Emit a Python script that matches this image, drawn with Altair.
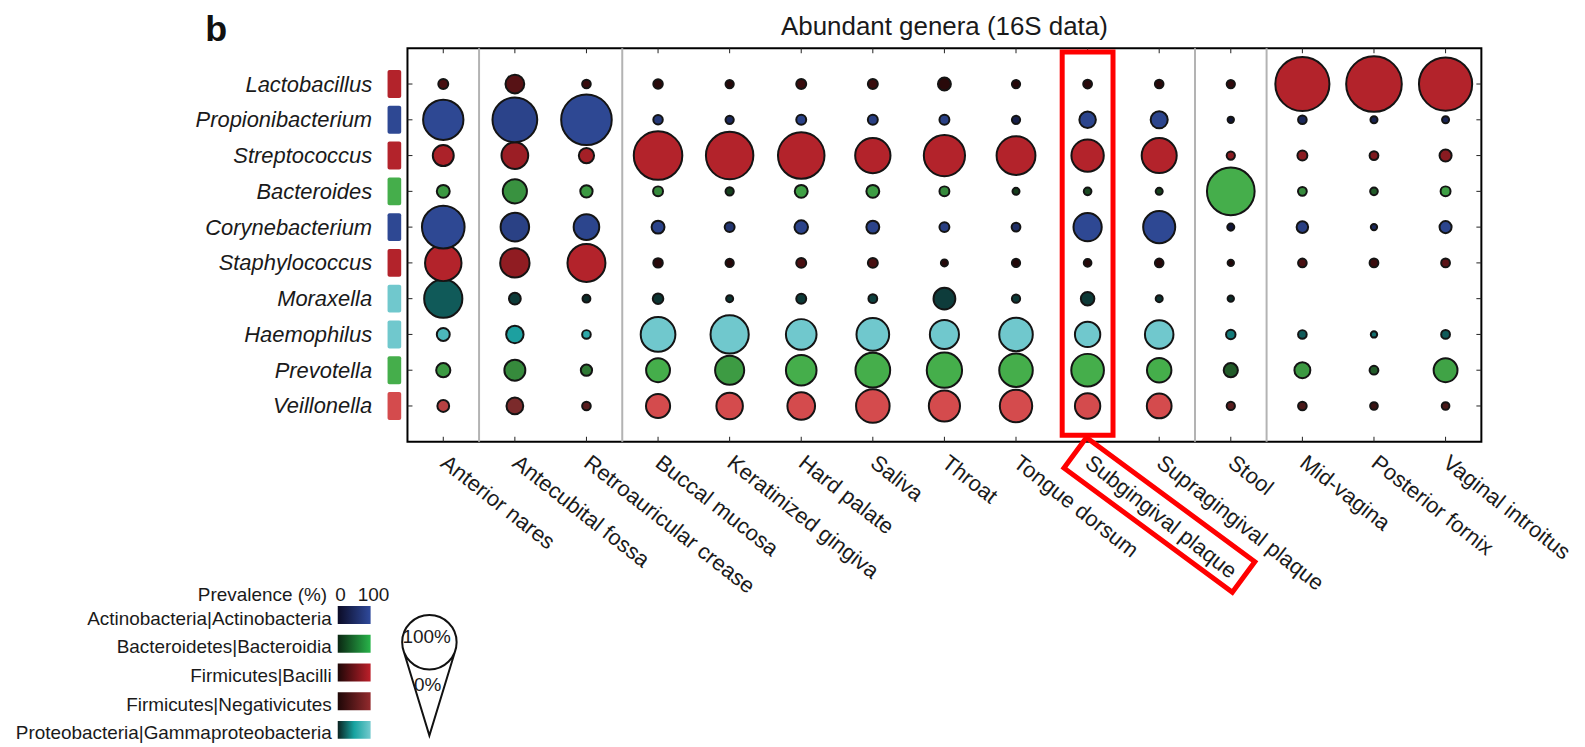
import json
import altair as alt
import pandas as pd

FONT = "Liberation Sans"

# ---------------- data ----------------
sites = ["Anterior nares", "Antecubital fossa", "Retroauricular crease", "Buccal mucosa",
         "Keratinized gingiva", "Hard palate", "Saliva", "Throat", "Tongue dorsum",
         "Subgingival plaque", "Supragingival plaque", "Stool", "Mid-vagina",
         "Posterior fornix", "Vaginal introitus"]
site_groups = ["Airways", "Skin", "Skin", "Oral", "Oral", "Oral", "Oral", "Oral", "Oral",
               "Oral", "Oral", "Gut", "Urogenital", "Urogenital", "Urogenital"]
highlighted_site = "Subgingival plaque"

genera = ["Lactobacillus", "Propionibacterium", "Streptococcus", "Bacteroides",
          "Corynebacterium", "Staphylococcus", "Moraxella", "Haemophilus",
          "Prevotella", "Veillonella"]
genus_class = ["Firmicutes|Bacilli", "Actinobacteria|Actinobacteria", "Firmicutes|Bacilli",
               "Bacteroidetes|Bacteroidia", "Actinobacteria|Actinobacteria", "Firmicutes|Bacilli",
               "Proteobacteria|Gammaproteobacteria", "Proteobacteria|Gammaproteobacteria",
               "Bacteroidetes|Bacteroidia", "Firmicutes|Negativicutes"]

classes = ["Actinobacteria|Actinobacteria", "Bacteroidetes|Bacteroidia", "Firmicutes|Bacilli",
           "Firmicutes|Negativicutes", "Proteobacteria|Gammaproteobacteria"]
class_prev_domain = [[0, 100], [0, 100], [0, 100], [0, 100], [0, 70, 100]]
class_colors = [["#0a0a22", "#2e4893"], ["#0a2412", "#45ae4b"], ["#1a0606", "#b3232b"],
                ["#1a0606", "#d44b4d"], ["#0b2220", "#179d9d", "#70c8cd"]]
legend_colors = [["#0b0b26", "#2f4a9c"], ["#0a2612", "#28b44a"], ["#1e0707", "#bd1f2a"],
                 ["#1e0707", "#932a2d"], ["#0b2220", "#17a3a0", "#74cace"]]

# relative abundance (size) per site, in site order
lactobacillus_abund = [3.2, 11.4, 2.4, 2.9, 2.2, 3.2, 3.2, 5.4, 2.2, 2.5, 2.4, 2.2, 94.7, 100, 91.6]
propionibacterium_abund = [52.6, 64.8, 82.7, 2.9, 2.2, 3.2, 3.2, 3.2, 2.2, 8.8, 9.4, 1.3, 2.4, 1.6, 1.6]
streptococcus_abund = [14.2, 23.1, 7.5, 76.2, 72.7, 70.0, 40.3, 54.9, 48.8, 33.9, 39.7, 2.2, 3.2, 2.5, 4.7]
bacteroides_abund = [5.4, 18.8, 4.9, 3.2, 2.2, 5.4, 5.4, 3.2, 1.6, 1.9, 1.6, 73.5, 2.5, 1.9, 3.2]
corynebacterium_abund = [58.8, 26.3, 21.2, 5.4, 3.2, 5.9, 5.4, 3.2, 2.5, 25.8, 33.2, 1.6, 4.3, 1.3, 4.7]
staphylococcus_abund = [43.0, 27.9, 46.6, 2.9, 2.2, 3.2, 3.2, 1.6, 2.2, 1.9, 2.4, 1.3, 2.4, 2.5, 2.5]
moraxella_abund = [47.2, 4.5, 2.0, 3.6, 1.6, 3.2, 2.5, 15.4, 2.2, 5.9, 1.6, 1.3, None, None, None]
haemophilus_abund = [5.4, 9.8, 2.4, 38.9, 47.2, 30.3, 34.5, 27.4, 36.4, 20.8, 26.3, 2.9, 2.4, 1.3, 2.5]
prevotella_abund = [6.5, 14.2, 4.1, 18.4, 27.4, 30.3, 38.9, 40.3, 36.4, 34.5, 19.3, 6.5, 8.2, 2.5, 18.4]
veillonella_abund = [4.5, 9.1, 2.4, 18.8, 22.7, 24.7, 36.4, 31.4, 33.9, 20.8, 19.8, 2.2, 2.4, 1.9, 1.9]

# prevalence (%) per site, in site order
lactobacillus_prev = [30, 40, 20, 10, 8, 20, 20, 10, 8, 10, 10, 15, 100, 100, 100]
propionibacterium_prev = [100, 92, 100, 76, 50, 90, 85, 88, 35, 95, 95, 17, 50, 40, 45]
streptococcus_prev = [95, 84, 90, 100, 100, 100, 100, 100, 100, 100, 100, 73, 73, 65, 73]
bacteroides_prev = [85, 80, 85, 74, 20, 90, 88, 74, 18, 27, 20, 100, 74, 40, 90]
corynebacterium_prev = [100, 88, 95, 92, 69, 92, 92, 85, 60, 100, 100, 20, 85, 50, 95]
staphylococcus_prev = [100, 77, 100, 10, 8, 31, 30, 8, 5, 8, 8, 5, 31, 21, 42]
moraxella_prev = [32, 14, 5, 10, 10, 13, 17, 15, 13, 13, 10, 5, None, None, None]
haemophilus_prev = [88, 72, 78, 100, 100, 100, 100, 100, 100, 100, 100, 50, 32, 44, 32]
prevotella_prev = [85, 74, 62, 100, 86, 100, 100, 100, 100, 100, 100, 40, 85, 40, 92]
veillonella_prev = [85, 52, 34, 100, 100, 100, 100, 100, 100, 100, 100, 34, 26, 17, 26]

abund_lists = [lactobacillus_abund, propionibacterium_abund, streptococcus_abund, bacteroides_abund,
               corynebacterium_abund, staphylococcus_abund, moraxella_abund, haemophilus_abund,
               prevotella_abund, veillonella_abund]
prev_lists = [lactobacillus_prev, propionibacterium_prev, streptococcus_prev, bacteroides_prev,
              corynebacterium_prev, staphylococcus_prev, moraxella_prev, haemophilus_prev,
              prevotella_prev, veillonella_prev]

# ---------------- tables ----------------
rows = []
for gi, g in enumerate(genera):
    for si, s in enumerate(sites):
        a = abund_lists[gi][si]
        if a is None:
            continue
        rows.append({"genus": g, "row": gi, "col": si, "site": s, "cls": genus_class[gi],
                     "abundance": a, "prevalence": prev_lists[gi][si]})
cells = pd.DataFrame(rows)

col_df = pd.DataFrame({"col": list(range(len(sites)))})
row_df = pd.DataFrame({"row": list(range(len(genera))), "genus": genera, "cls": genus_class})
seps = [i + 0.5 for i in range(len(sites) - 1) if site_groups[i] != site_groups[i + 1]]
sep_df = pd.DataFrame({"sep": seps})
hl_df = pd.DataFrame({"col": [sites.index(highlighted_site)]})
dummy = pd.DataFrame({"d": [0]})

# ---------------- scales / axes ----------------
W, H = 1078, 395
NX, NY = len(sites), len(genera)
xstep = W / NX
ystep = H / (NY + 1)
xs = alt.Scale(domain=[-0.5, NX - 0.5], nice=False, zero=False)
ys = alt.Scale(domain=[-1, NY], reverse=True, nice=False, zero=False)

xaxis = alt.Axis(values=list(range(NX)), labelExpr=f"{json.dumps(sites)}[datum.value]",
                 labelAngle=38, labelAlign="left", labelBaseline="top", labelFontSize=22,
                 labelFont=FONT, labelColor="#1a1a1a", ticks=False, domain=False, grid=False,
                 title=None, labelPadding=10, labelOffset=6, labelOverlap=False,
                 labelFlush=False, labelLimit=0)
yaxis = alt.Axis(values=list(range(NY)), labelExpr=f"{json.dumps(genera)}[datum.value]",
                 labelFontSize=22, labelFontStyle="italic", labelFont=FONT, labelColor="#1a1a1a",
                 labelPadding=36, ticks=False, domain=False, grid=False, title=None,
                 labelOverlap=False, labelFlush=False, labelBaseline="middle", labelLimit=0)

X = lambda f: alt.X(f, scale=xs, axis=xaxis)
Y = lambda f: alt.Y(f, scale=ys, axis=yaxis)

layers = []

# group separators
layers.append(alt.Chart(sep_df).transform_calculate(y0="-1", y1=str(NY)).mark_rule(
    color="#b3b3b3", strokeWidth=2).encode(x=X("sep:Q"), y=Y("y0:Q"), y2="y1:Q"))

# inward ticks
tx = 5 / xstep
ty = 5 / ystep
layers.append(alt.Chart(col_df).transform_calculate(y0=str(NY), y1=str(NY - ty)).mark_rule(
    color="#222", strokeWidth=1).encode(x=X("col:Q"), y=Y("y0:Q"), y2="y1:Q"))
layers.append(alt.Chart(col_df).transform_calculate(y0="-1", y1=str(-1 + ty)).mark_rule(
    color="#222", strokeWidth=1).encode(x=X("col:Q"), y=Y("y0:Q"), y2="y1:Q"))
layers.append(alt.Chart(row_df).transform_calculate(x0=str(-0.5), x1=str(-0.5 + tx)).mark_rule(
    color="#222", strokeWidth=1).encode(x=X("x0:Q"), x2="x1:Q", y=Y("row:Q")))
layers.append(alt.Chart(row_df).transform_calculate(x0=str(NX - 0.5), x1=str(NX - 0.5 - tx)).mark_rule(
    color="#222", strokeWidth=1).encode(x=X("x0:Q"), x2="x1:Q", y=Y("row:Q")))

# bubbles, one layer per genus (bottom row drawn first)
size_scale = alt.Scale(domain=[0, 100], range=[0, 3117], zero=True)
for gi in reversed(range(NY)):
    ci = classes.index(genus_class[gi])
    layers.append(
        alt.Chart(cells).transform_filter(alt.datum.genus == genera[gi]).mark_circle(
            stroke="#141414", strokeWidth=2, opacity=1).encode(
            x=X("col:Q"), y=Y("row:Q"),
            size=alt.Size("abundance:Q", scale=size_scale, legend=None),
            color=alt.Color("prevalence:Q", legend=None,
                            scale=alt.Scale(domain=class_prev_domain[ci], range=class_colors[ci],
                                            interpolate="rgb"))))

# class colour squares beside genus names
layers.append(alt.Chart(row_df).transform_calculate(
    y0="datum.row - 0.39", y1="datum.row + 0.39").mark_rect(cornerRadius=2).encode(
    x=alt.value(-20), x2=alt.value(-6.3), y=Y("y0:Q"), y2="y1:Q",
    color=alt.Color("cls:N", legend=None,
                    scale=alt.Scale(domain=classes, range=[c[-1] for c in class_colors]))))

# highlight box around one site column
layers.append(alt.Chart(hl_df).transform_calculate(
    x0="datum.col - 0.355", x1="datum.col + 0.355", y0="-0.894", y1="9.82").mark_rect(
    fillOpacity=0, stroke="#ff0000", strokeWidth=5).encode(
    x=X("x0:Q"), x2="x1:Q", y=Y("y0:Q"), y2="y1:Q"))

# rotated box around its label
layers.append(alt.Chart(dummy).mark_point(
    shape="M-1,-0.181L1,-0.181L1,0.181L-1,0.181Z", size=44100, angle=36.4, filled=False,
    stroke="#ff0000", color="#ff0000", strokeWidth=5, opacity=1).encode(
    x=alt.value(754.8), y=alt.value(468.4)))

# title and panel letter
layers.append(alt.Chart(dummy).mark_text(
    text="Abundant genera (16S data)", font=FONT, fontSize=26, color="#1a1a1a",
    align="center", baseline="alphabetic").encode(x=alt.value(W / 2), y=alt.value(-13.7)))
layers.append(alt.Chart(dummy).mark_text(
    text="b", font=FONT, fontSize=36, fontWeight="bold", color="#111",
    align="left", baseline="alphabetic").encode(x=alt.value(-203), y=alt.value(-7.7)))

# legend: prevalence gradients
layers.append(alt.Chart(dummy).mark_text(
    text="Prevalence (%)", font=FONT, fontSize=19, color="#1a1a1a", align="right",
    baseline="alphabetic").encode(x=alt.value(-80.7), y=alt.value(554.7)))
layers.append(alt.Chart(dummy).mark_text(
    text="0", font=FONT, fontSize=19, color="#1a1a1a", align="center",
    baseline="alphabetic").encode(x=alt.value(-67.3), y=alt.value(554.7)))
layers.append(alt.Chart(dummy).mark_text(
    text="100", font=FONT, fontSize=19, color="#1a1a1a", align="center",
    baseline="alphabetic").encode(x=alt.value(-34), y=alt.value(554.7)))
for i, c in enumerate(classes):
    top = 560 + 28.8 * i
    cols = legend_colors[i]
    stops = [alt.GradientStop(color=col, offset=k / (len(cols) - 1)) for k, col in enumerate(cols)]
    layers.append(alt.Chart(dummy).mark_rect(
        fill=alt.LinearGradient(gradient="linear", stops=stops, x1=0, x2=1, y1=0, y2=0)).encode(
        x=alt.value(-70), x2=alt.value(-37), y=alt.value(top), y2=alt.value(top + 18)))
    layers.append(alt.Chart(dummy).mark_text(
        text=c, font=FONT, fontSize=19, color="#1a1a1a", align="right",
        baseline="alphabetic").encode(x=alt.value(-76), y=alt.value(top + 18.5)))

# legend: size glyph (cone)
cone = ("M0,-0.982A0.448,0.448,0,1,1,0,-0.086A0.448,0.448,0,1,1,0,-0.982Z"
        "M-0.428,-0.403L0,1L0.428,-0.403")
layers.append(alt.Chart(dummy).mark_point(
    shape=cone, size=14884, filled=False, stroke="#111", color="#111", strokeWidth=2,
    opacity=1).encode(x=alt.value(22), y=alt.value(628.85)))
layers.append(alt.Chart(dummy).mark_text(
    text="100%", font=FONT, fontSize=19, color="#1a1a1a", align="center",
    baseline="middle").encode(x=alt.value(19.3), y=alt.value(591.3)))
layers.append(alt.Chart(dummy).mark_text(
    text="0%", font=FONT, fontSize=19, color="#1a1a1a", align="center",
    baseline="middle").encode(x=alt.value(20.3), y=alt.value(639.7)))

chart = alt.layer(*layers).resolve_scale(color="independent").properties(
    width=W, height=H,
    autosize=alt.AutoSizeParams(type="none"),
    padding={"left": 401, "top": 39, "right": 96, "bottom": 304},
    background="white",
).configure_view(stroke="black", strokeWidth=2)

chart.save("out.html", embed_options={"renderer": "svg", "actions": False})
